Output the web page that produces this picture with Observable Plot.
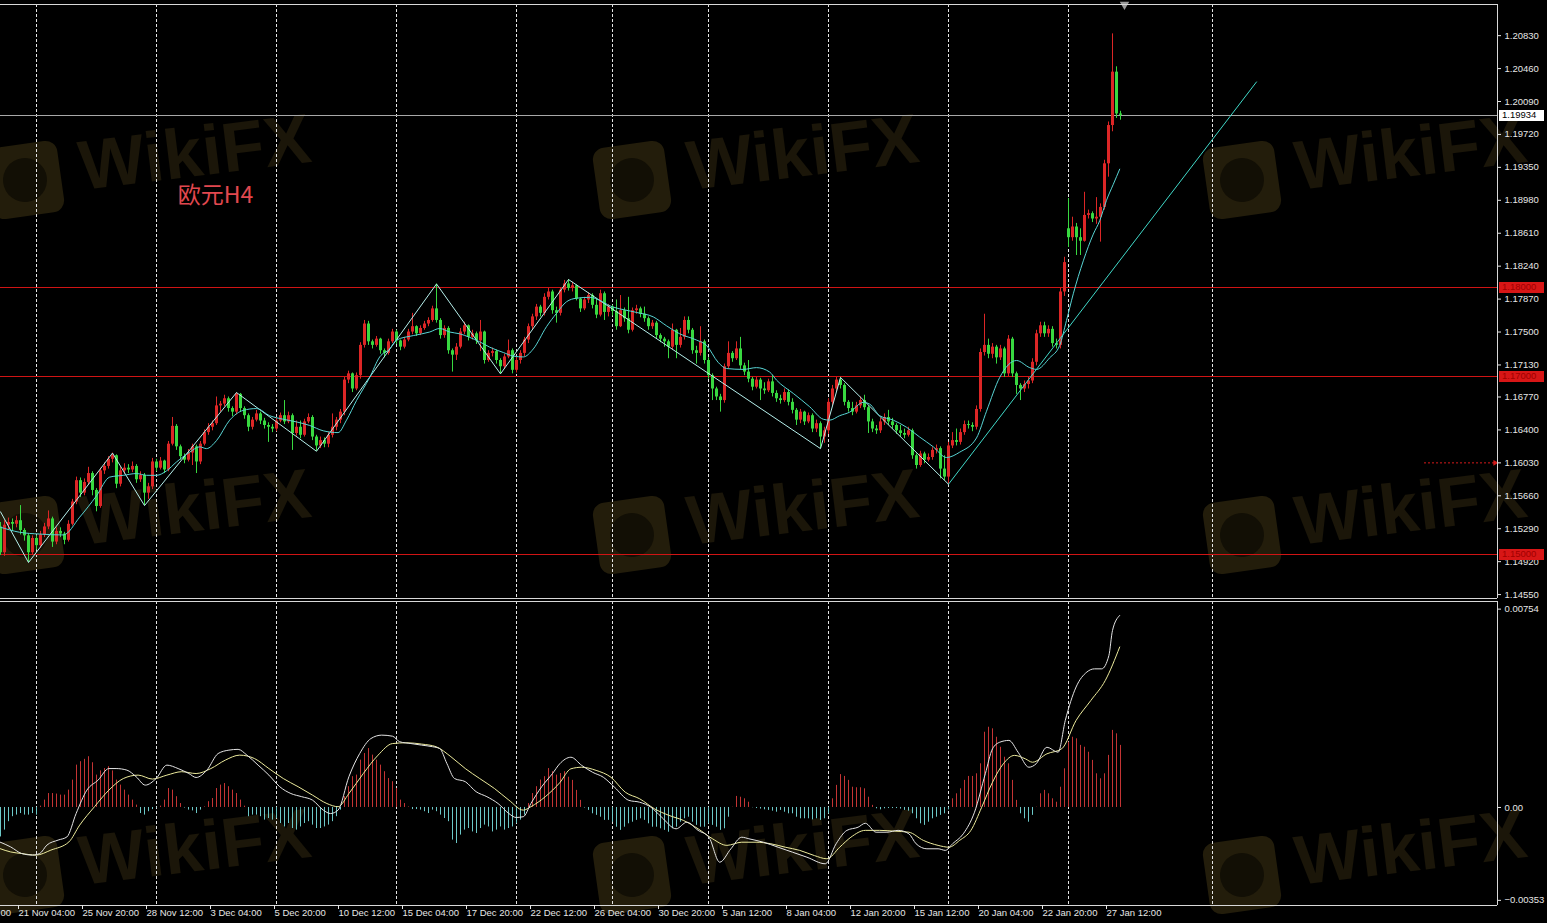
<!DOCTYPE html>
<html><head><meta charset="utf-8">
<script src="https://cdn.jsdelivr.net/npm/d3@7"></script>
<script src="https://cdn.jsdelivr.net/npm/@observablehq/plot@0.6"></script>
<style>
html,body{margin:0;padding:0;background:#000;}
#chart{width:1547px;height:923px;background:#000;overflow:hidden;position:relative;}
#chart svg{display:block;}
</style></head><body><div id="chart"></div>
<script>
// ---------- DATA (EURUSD H4, bar index 0 = 21 Nov 04:00) ----------
const firstBar = -4;
const open = [
1.1531,1.1502,1.1533,1.1536,1.1534,1.1538,1.1527,1.1521,1.1502,1.1518,
1.1510,1.1522,1.1531,1.1540,1.1514,1.1526,1.1523,1.1516,1.1534,1.1559,
1.1583,1.1569,1.1581,1.1591,1.1572,1.1554,1.1594,1.1599,1.1607,1.1611,
1.1579,1.1594,1.1597,1.1595,1.1599,1.1584,1.1589,1.1569,1.1576,1.1604,
1.1597,1.1605,1.1595,1.1624,1.1644,1.1621,1.1610,1.1606,1.1614,1.1621,
1.1604,1.1624,1.1637,1.1643,1.1647,1.1667,1.1669,1.1675,1.1664,1.1660,
1.1680,1.1664,1.1656,1.1643,1.1651,1.1658,1.1650,1.1645,1.1643,1.1641,
1.1650,1.1656,1.1649,1.1656,1.1636,1.1643,1.1634,1.1649,1.1654,1.1632,
1.1622,1.1628,1.1624,1.1634,1.1643,1.1651,1.1660,1.1696,1.1703,1.1686,
1.1701,1.1735,1.1759,1.1739,1.1735,1.1742,1.1729,1.1726,1.1739,1.1750,
1.1740,1.1733,1.1741,1.1750,1.1756,1.1748,1.1754,1.1759,1.1763,1.1776,
1.1763,1.1746,1.1754,1.1729,1.1724,1.1733,1.1750,1.1757,1.1744,1.1748,
1.1740,1.1750,1.1718,1.1726,1.1728,1.1718,1.1711,1.1722,1.1729,1.1707,
1.1718,1.1726,1.1741,1.1756,1.1767,1.1778,1.1771,1.1789,1.1795,1.1774,
1.1771,1.1797,1.1804,1.1799,1.1802,1.1787,1.1776,1.1786,1.1791,1.1780,
1.1769,1.1793,1.1772,1.1778,1.1773,1.1756,1.1774,1.1765,1.1752,1.1774,
1.1776,1.1770,1.1765,1.1756,1.1760,1.1746,1.1742,1.1739,1.1733,1.1752,
1.1735,1.1744,1.1763,1.1752,1.1729,1.1726,1.1739,1.1718,1.1701,1.1686,
1.1677,1.1673,1.1711,1.1726,1.1720,1.1731,1.1712,1.1705,1.1697,1.1688,
1.1696,1.1686,1.1684,1.1694,1.1681,1.1675,1.1673,1.1682,1.1671,1.1662,
1.1651,1.1660,1.1649,1.1656,1.1641,1.1647,1.1632,1.1639,1.1671,1.1686,
1.1696,1.1690,1.1671,1.1664,1.1660,1.1667,1.1673,1.1665,1.1649,1.1641,
1.1639,1.1649,1.1654,1.1649,1.1645,1.1639,1.1636,1.1634,1.1639,1.1611,
1.1600,1.1613,1.1606,1.1609,1.1617,1.1619,1.1596,1.1587,1.1622,1.1628,
1.1626,1.1637,1.1646,1.1645,1.1643,1.1663,1.1727,1.1735,1.1725,1.1733,
1.1721,1.1731,1.1703,1.1742,1.1703,1.1690,1.1686,1.1691,1.1695,1.1716,
1.1748,1.1757,1.1748,1.1753,1.1737,1.1735,1.1795,1.1866,1.1856,1.1868,
1.1856,1.1852,1.1881,1.1883,1.1877,1.1879,1.1890,1.1939,1.1982,1.2042,1.1995];
const close = [
1.1502,1.1533,1.1536,1.1534,1.1538,1.1527,1.1521,1.1502,1.1518,1.1510,
1.1522,1.1531,1.1540,1.1514,1.1526,1.1523,1.1516,1.1534,1.1559,1.1583,
1.1569,1.1581,1.1591,1.1572,1.1554,1.1594,1.1599,1.1607,1.1611,1.1579,
1.1594,1.1597,1.1595,1.1599,1.1584,1.1589,1.1569,1.1576,1.1604,1.1597,
1.1605,1.1595,1.1624,1.1644,1.1621,1.1610,1.1606,1.1614,1.1621,1.1604,
1.1624,1.1637,1.1643,1.1647,1.1667,1.1669,1.1675,1.1664,1.1660,1.1680,
1.1664,1.1656,1.1643,1.1651,1.1658,1.1650,1.1645,1.1643,1.1641,1.1650,
1.1656,1.1649,1.1656,1.1636,1.1643,1.1634,1.1649,1.1654,1.1632,1.1622,
1.1628,1.1624,1.1634,1.1643,1.1651,1.1660,1.1696,1.1703,1.1686,1.1701,
1.1735,1.1759,1.1739,1.1735,1.1742,1.1729,1.1726,1.1739,1.1750,1.1740,
1.1733,1.1741,1.1750,1.1756,1.1748,1.1754,1.1759,1.1763,1.1776,1.1763,
1.1746,1.1754,1.1729,1.1724,1.1733,1.1750,1.1757,1.1744,1.1748,1.1740,
1.1750,1.1718,1.1726,1.1728,1.1718,1.1711,1.1722,1.1729,1.1707,1.1718,
1.1726,1.1741,1.1756,1.1767,1.1778,1.1771,1.1789,1.1795,1.1774,1.1771,
1.1797,1.1804,1.1799,1.1802,1.1787,1.1776,1.1786,1.1791,1.1780,1.1769,
1.1793,1.1772,1.1778,1.1773,1.1756,1.1774,1.1765,1.1752,1.1774,1.1776,
1.1770,1.1765,1.1756,1.1760,1.1746,1.1742,1.1739,1.1733,1.1752,1.1735,
1.1744,1.1763,1.1752,1.1729,1.1726,1.1739,1.1718,1.1701,1.1686,1.1677,
1.1673,1.1711,1.1726,1.1720,1.1731,1.1712,1.1705,1.1697,1.1688,1.1696,
1.1686,1.1684,1.1694,1.1681,1.1675,1.1673,1.1682,1.1671,1.1662,1.1651,
1.1660,1.1649,1.1656,1.1641,1.1647,1.1632,1.1639,1.1671,1.1686,1.1696,
1.1690,1.1671,1.1664,1.1660,1.1667,1.1673,1.1665,1.1649,1.1641,1.1639,
1.1649,1.1654,1.1649,1.1645,1.1639,1.1636,1.1634,1.1639,1.1611,1.1600,
1.1613,1.1606,1.1609,1.1617,1.1619,1.1596,1.1587,1.1622,1.1628,1.1626,
1.1637,1.1646,1.1645,1.1643,1.1663,1.1727,1.1735,1.1725,1.1733,1.1721,
1.1731,1.1703,1.1742,1.1703,1.1690,1.1686,1.1691,1.1695,1.1716,1.1748,
1.1757,1.1748,1.1753,1.1737,1.1735,1.1795,1.1828,1.1856,1.1868,1.1856,
1.1852,1.1881,1.1883,1.1877,1.1879,1.1890,1.1939,1.1982,1.2042,1.1995,1.19934];
const high = [
1.1536,1.1538,1.1541,1.1540,1.1543,1.1555,1.1529,1.1523,1.1521,1.1521,
1.1526,1.1535,1.1549,1.1542,1.1530,1.1530,1.1525,1.1538,1.1562,1.1587,
1.1586,1.1585,1.1598,1.1593,1.1574,1.1597,1.1603,1.1610,1.1614,1.1612,
1.1598,1.1602,1.1601,1.1604,1.1601,1.1593,1.1591,1.1580,1.1608,1.1607,
1.1609,1.1606,1.1627,1.1654,1.1646,1.1623,1.1613,1.1618,1.1624,1.1623,
1.1627,1.1640,1.1647,1.1650,1.1677,1.1672,1.1679,1.1677,1.1666,1.1682,
1.1681,1.1666,1.1658,1.1654,1.1662,1.1660,1.1653,1.1648,1.1646,1.1653,
1.1659,1.1673,1.1660,1.1658,1.1650,1.1650,1.1652,1.1658,1.1656,1.1634,
1.1632,1.1631,1.1637,1.1658,1.1654,1.1663,1.1699,1.1706,1.1704,1.1704,
1.1738,1.1763,1.1762,1.1741,1.1745,1.1743,1.1731,1.1742,1.1753,1.1752,
1.1741,1.1744,1.1753,1.1771,1.1757,1.1757,1.1762,1.1766,1.1779,1.1804,
1.1765,1.1757,1.1756,1.1731,1.1737,1.1754,1.1761,1.1758,1.1752,1.1750,
1.1763,1.1751,1.1729,1.1732,1.1730,1.1720,1.1725,1.1741,1.1731,1.1722,
1.1729,1.1744,1.1759,1.1770,1.1781,1.1780,1.1793,1.1799,1.1797,1.1778,
1.1800,1.1808,1.1809,1.1806,1.1803,1.1788,1.1789,1.1794,1.1793,1.1788,
1.1797,1.1795,1.1781,1.1780,1.1786,1.1791,1.1777,1.1789,1.1777,1.1780,
1.1778,1.1778,1.1767,1.1763,1.1762,1.1748,1.1744,1.1741,1.1759,1.1753,
1.1754,1.1767,1.1767,1.1754,1.1734,1.1756,1.1741,1.1721,1.1703,1.1688,
1.1680,1.1714,1.1739,1.1728,1.1739,1.1744,1.1715,1.1718,1.1699,1.1699,
1.1698,1.1693,1.1697,1.1701,1.1684,1.1679,1.1686,1.1685,1.1675,1.1664,
1.1663,1.1661,1.1659,1.1658,1.1651,1.1649,1.1643,1.1675,1.1690,1.1699,
1.1699,1.1692,1.1673,1.1671,1.1671,1.1677,1.1679,1.1667,1.1652,1.1645,
1.1653,1.1658,1.1662,1.1653,1.1647,1.1645,1.1641,1.1643,1.1641,1.1613,
1.1616,1.1615,1.1613,1.1620,1.1623,1.1621,1.1611,1.1626,1.1637,1.1641,
1.1641,1.1650,1.1650,1.1648,1.1667,1.1731,1.1770,1.1742,1.1737,1.1735,
1.1735,1.1733,1.1746,1.1744,1.1705,1.1692,1.1695,1.1699,1.1720,1.1752,
1.1761,1.1761,1.1757,1.1756,1.1742,1.1799,1.1834,1.1900,1.1879,1.1872,
1.1866,1.1907,1.1887,1.1885,1.1901,1.1894,1.1943,1.1986,1.2085,1.2048,1.1998];
const low = [
1.1499,1.1498,1.1528,1.1526,1.1530,1.1522,1.1515,1.1491,1.1499,1.1505,
1.1507,1.1519,1.1528,1.1508,1.1511,1.1519,1.1511,1.1514,1.1532,1.1556,
1.1564,1.1566,1.1578,1.1566,1.1548,1.1552,1.1590,1.1596,1.1603,1.1574,
1.1576,1.1590,1.1591,1.1592,1.1580,1.1581,1.1555,1.1562,1.1573,1.1593,
1.1595,1.1591,1.1593,1.1622,1.1617,1.1606,1.1602,1.1604,1.1600,1.1591,
1.1601,1.1622,1.1634,1.1639,1.1645,1.1660,1.1666,1.1660,1.1655,1.1657,
1.1660,1.1652,1.1638,1.1640,1.1649,1.1646,1.1641,1.1626,1.1637,1.1638,
1.1648,1.1646,1.1647,1.1617,1.1633,1.1630,1.1632,1.1647,1.1628,1.1616,
1.1619,1.1620,1.1620,1.1631,1.1639,1.1647,1.1656,1.1692,1.1682,1.1684,
1.1697,1.1732,1.1735,1.1731,1.1733,1.1725,1.1721,1.1724,1.1737,1.1736,
1.1729,1.1731,1.1739,1.1747,1.1745,1.1746,1.1752,1.1756,1.1761,1.1760,
1.1742,1.1743,1.1725,1.1705,1.1718,1.1731,1.1747,1.1740,1.1741,1.1736,
1.1728,1.1714,1.1716,1.1722,1.1714,1.1703,1.1708,1.1720,1.1703,1.1704,
1.1714,1.1722,1.1737,1.1752,1.1763,1.1767,1.1768,1.1786,1.1770,1.1760,
1.1768,1.1794,1.1796,1.1795,1.1785,1.1772,1.1774,1.1782,1.1776,1.1765,
1.1767,1.1763,1.1767,1.1768,1.1752,1.1755,1.1761,1.1748,1.1750,1.1770,
1.1766,1.1761,1.1752,1.1753,1.1742,1.1738,1.1733,1.1720,1.1730,1.1720,
1.1732,1.1741,1.1748,1.1725,1.1714,1.1723,1.1714,1.1697,1.1673,1.1673,
1.1660,1.1670,1.1709,1.1716,1.1718,1.1708,1.1701,1.1693,1.1684,1.1686,
1.1673,1.1680,1.1682,1.1677,1.1671,1.1669,1.1671,1.1667,1.1658,1.1645,
1.1647,1.1645,1.1647,1.1637,1.1637,1.1619,1.1625,1.1635,1.1667,1.1683,
1.1686,1.1667,1.1660,1.1656,1.1658,1.1664,1.1662,1.1636,1.1637,1.1635,
1.1636,1.1645,1.1645,1.1641,1.1635,1.1632,1.1630,1.1632,1.1607,1.1596,
1.1598,1.1602,1.1604,1.1606,1.1613,1.1585,1.1583,1.1579,1.1619,1.1622,
1.1623,1.1634,1.1641,1.1638,1.1640,1.1660,1.1723,1.1720,1.1720,1.1714,
1.1718,1.1699,1.1700,1.1699,1.1680,1.1673,1.1682,1.1686,1.1692,1.1712,
1.1744,1.1744,1.1744,1.1733,1.1731,1.1731,1.1790,1.1845,1.1852,1.1836,
1.1836,1.1851,1.1877,1.1873,1.1871,1.1851,1.1887,1.1924,1.1975,1.1990,1.1988];

// ZigZag vertices [bar, price]
const zigzag = [[-4,1.1548],[3,1.1491],[24,1.1614],[32,1.1555],[55,1.1682],[75,1.1616],[105,1.1804],[121,1.1703],[138,1.1809],[201,1.1619],[206,1.1699],[233,1.1579]];
// Moving average [bar, price]
const movingAvg = [[-4.2,1.1531],[0.8,1.1525],[5.8,1.1523],[11.7,1.1522],[15.8,1.1542],[20,1.1566],[23.3,1.1587],[26.7,1.1589],[30,1.1591],[32.5,1.1589],[35,1.1589],[37.5,1.1594],[40,1.1604],[43.3,1.1615],[45.8,1.1621],[47.5,1.1619],[50,1.1628],[53.3,1.1651],[56.7,1.1662],[60,1.1664],[63.3,1.1656],[66.7,1.1652],[70,1.1649],[73.3,1.1645],[76.7,1.1639],[80.4,1.1637],[82.5,1.1651],[85,1.1673],[88.3,1.1699],[90.8,1.1722],[93.3,1.1731],[95,1.1741],[99.2,1.1746],[103.3,1.1750],[105.8,1.1754],[108.3,1.1750],[110.8,1.1748],[113.3,1.1744],[115.8,1.1739],[118.3,1.1733],[121.7,1.1727],[124.2,1.1723],[126.7,1.1722],[129.2,1.1731],[132.5,1.1756],[135,1.1771],[137.5,1.1784],[140,1.1788],[143.3,1.1789],[149.2,1.1778],[155,1.1772],[159.2,1.1767],[162.5,1.1757],[165.8,1.1748],[170,1.1741],[172.5,1.1735],[175.4,1.1716],[177.5,1.1709],[181.7,1.1708],[185,1.1710],[188.3,1.1705],[190,1.1696],[194.2,1.1681],[198.3,1.1666],[201.7,1.1652],[203.3,1.1651],[205.8,1.1656],[208.3,1.1660],[211.7,1.1671],[213.3,1.1669],[215.8,1.1656],[219.2,1.1651],[222.5,1.1643],[225.8,1.1632],[229.2,1.1621],[232.5,1.1609],[235.8,1.1615],[240,1.1631],[242.5,1.1661],[245.8,1.1699],[250,1.1718],[253.3,1.1710],[255,1.1708],[258.3,1.1721],[260.8,1.1735],[262.5,1.1763],[264.2,1.1793],[266.7,1.1830],[269.2,1.1860],[270.8,1.1875],[272.5,1.1898],[274.2,1.1916],[275.8,1.1933]];
// Trend line anchors [bar, price]
const trendLine = [[233,1.1579],[310,1.2031]];
const levelLines = [1.18000, 1.17000, 1.15000];
const bidPrice = 1.19934;
const alertLine = {price: 1.16030, fromBar: 352};
const chartLabel = [{bar: 40.3, price: 1.19034, text: "欧元H4"}];
const priceTicks = [1.20830,1.20460,1.20090,1.19720,1.19350,1.18980,1.18610,1.18240,1.17870,1.17500,1.17130,1.16770,1.16400,1.16030,1.15660,1.15290,1.14920,1.14550];

// MACD histogram, one value per bar from firstBar
const macdHist = [
-0.00112,-0.00086,-0.00054,-0.00035,-0.00029,-0.00023,-0.00029,-0.00029,-0.00023,-0.00029,
0.00005,0.00028,0.00053,0.00053,0.00051,0.00047,0.00047,0.00066,0.00104,0.00161,
0.00174,0.00183,0.00193,0.00170,0.00123,0.00139,0.00148,0.00155,0.00139,0.00104,
0.00085,0.00066,0.00047,0.00028,0.00009,-0.00023,-0.00029,-0.00016,-0.00008,-0.00002,
0.00005,0.00028,0.00072,0.00066,0.00041,0.00015,-0.00002,-0.00010,-0.00013,-0.00023,
-0.00010,0.00002,0.00022,0.00034,0.00072,0.00085,0.00091,0.00079,0.00066,0.00053,
0.00028,0.00005,-0.00035,-0.00029,-0.00029,-0.00035,-0.00048,-0.00042,-0.00048,-0.00042,
-0.00061,-0.00074,-0.00061,-0.00080,-0.00086,-0.00074,-0.00061,-0.00054,-0.00067,-0.00080,
-0.00080,-0.00074,-0.00067,-0.00054,-0.00035,-0.00010,0.00041,0.00079,0.00117,0.00123,
0.00180,0.00205,0.00224,0.00199,0.00180,0.00161,0.00136,0.00110,0.00098,0.00072,
0.00028,0.00015,0.00002,-0.00008,-0.00008,-0.00010,-0.00016,-0.00023,-0.00010,-0.00016,
-0.00029,-0.00042,-0.00054,-0.00124,-0.00137,-0.00105,-0.00086,-0.00080,-0.00093,-0.00099,
-0.00080,-0.00067,-0.00074,-0.00093,-0.00086,-0.00074,-0.00086,-0.00080,-0.00074,-0.00061,
-0.00048,-0.00029,0.00015,0.00053,0.00079,0.00104,0.00117,0.00148,0.00136,0.00123,
0.00129,0.00136,0.00115,0.00103,0.00065,0.00027,-0.00002,-0.00011,-0.00024,-0.00030,
-0.00037,-0.00049,-0.00049,-0.00056,-0.00075,-0.00087,-0.00075,-0.00062,-0.00056,-0.00049,
-0.00043,-0.00049,-0.00062,-0.00075,-0.00075,-0.00081,-0.00087,-0.00094,-0.00081,-0.00075,
-0.00056,-0.00043,-0.00037,-0.00056,-0.00068,-0.00075,-0.00075,-0.00062,-0.00068,-0.00075,
-0.00087,-0.00081,-0.00037,0.00001,0.00042,0.00039,0.00033,0.00020,-0.00001,-0.00004,
-0.00006,-0.00009,-0.00011,-0.00014,-0.00018,-0.00011,-0.00018,-0.00024,-0.00024,-0.00037,
-0.00043,-0.00043,-0.00043,-0.00047,-0.00043,-0.00049,-0.00043,-0.00024,0.00033,0.00084,
0.00125,0.00118,0.00103,0.00077,0.00075,0.00075,0.00071,0.00039,0.00008,-0.00005,
-0.00009,-0.00005,-0.00004,-0.00004,-0.00004,-0.00006,-0.00011,-0.00014,-0.00024,-0.00043,
-0.00062,-0.00068,-0.00056,-0.00043,-0.00037,-0.00030,-0.00024,-0.00009,0.00033,0.00052,
0.00071,0.00103,0.00118,0.00118,0.00128,0.00166,0.00286,0.00305,0.00299,0.00267,
0.00229,0.00191,0.00166,0.00103,0.00027,-0.00024,-0.00043,-0.00056,-0.00030,0.00001,
0.00052,0.00065,0.00052,0.00033,0.00020,0.00077,0.00147,0.00248,0.00267,0.00261,
0.00236,0.00229,0.00210,0.00179,0.00128,0.00109,0.00128,0.00198,0.00293,0.00280,0.00236];
// MACD lines [bar, value]
const macdMain = [[-4.2,-0.00131],[-1.45,-0.00150],[1.3,-0.00175],[4.0,-0.00181],[5.8,-0.00175],[7.6,-0.00143],[10.4,-0.00124],[12.6,-0.00112],[14.9,-0.00023],[17.6,0.00066],[20.4,0.00104],[23.1,0.00148],[24.9,0.00148],[27.6,0.00142],[29.9,0.00117],[32.2,0.00085],[34.9,0.00110],[37.6,0.00161],[40.4,0.00148],[43.1,0.00129],[44.9,0.00114],[47.6,0.00142],[50.4,0.00205],[53.1,0.00218],[55.4,0.00221],[57.6,0.00199],[60.4,0.00161],[63.1,0.00123],[65.8,0.00079],[68.6,0.00053],[71.3,0.00041],[74.0,0.00028],[76.7,-0.00010],[78.5,-0.00023],[80.4,-0.00010],[83.1,0.00117],[85.8,0.00205],[88.6,0.00262],[91.3,0.00275],[94.0,0.00271],[95.8,0.00250],[98.6,0.00243],[101.3,0.00237],[104.0,0.00231],[105.8,0.00224],[107.6,0.00167],[109.5,0.00110],[112.2,0.00098],[114.9,0.00060],[117.6,0.00041],[120.4,0.00015],[123.1,-0.00023],[124.9,-0.00038],[126.7,-0.00035],[128.6,0.00015],[131.3,0.00079],[134.0,0.00129],[135.8,0.00166],[138.6,0.00191],[141.3,0.00160],[144.0,0.00134],[146.7,0.00115],[149.5,0.00077],[153.1,0.00027],[155.8,0.00020],[158.6,0.00001],[161.3,-0.00037],[164.9,-0.00081],[167.6,-0.00056],[170.4,-0.00087],[173.1,-0.00113],[175.8,-0.00208],[178.6,-0.00157],[181.3,-0.00113],[183.1,-0.00119],[186.7,-0.00132],[190.4,-0.00151],[194.0,-0.00170],[197.6,-0.00189],[202.2,-0.00214],[204.9,-0.00138],[207.6,-0.00087],[210.4,-0.00075],[212.2,-0.00060],[214.9,-0.00094],[217.6,-0.00094],[220.4,-0.00087],[223.1,-0.00100],[224.9,-0.00138],[227.6,-0.00157],[230.4,-0.00157],[232.2,-0.00163],[234.0,-0.00138],[236.7,-0.00100],[239.5,-0.00018],[242.2,0.00128],[244.0,0.00223],[245.8,0.00248],[248.1,0.00255],[250.4,0.00210],[253.1,0.00153],[254.9,0.00166],[257.6,0.00229],[260.4,0.00210],[262.2,0.00331],[264.9,0.00458],[267.6,0.00515],[269.5,0.00527],[271.3,0.00527],[273.1,0.00578],[274.0,0.00673],[275.8,0.00730]];
const macdSignal = [[-4.2,-0.00156],[-1.45,-0.00169],[1.3,-0.00175],[4.9,-0.00181],[8.6,-0.00162],[13.1,-0.00131],[15.8,-0.00067],[19.5,0.00003],[23.1,0.00066],[26.7,0.00110],[30.4,0.00123],[34.0,0.00108],[37.6,0.00123],[41.3,0.00136],[44.9,0.00129],[48.6,0.00148],[52.2,0.00180],[55.8,0.00199],[59.5,0.00186],[63.1,0.00148],[66.7,0.00110],[70.4,0.00079],[74.0,0.00047],[77.6,0.00015],[80.4,0.00003],[83.1,0.00053],[86.7,0.00129],[90.4,0.00199],[94.0,0.00243],[97.6,0.00246],[101.3,0.00241],[104.9,0.00231],[108.6,0.00193],[112.2,0.00148],[115.8,0.00110],[119.5,0.00072],[123.1,0.00028],[126.7,-0.00010],[128.6,0.00003],[132.2,0.00041],[135.8,0.00094],[138.6,0.00147],[141.3,0.00153],[144.9,0.00141],[148.6,0.00115],[152.2,0.00058],[155.8,0.00033],[159.5,-0.00005],[163.1,-0.00030],[166.7,-0.00049],[170.4,-0.00081],[174.0,-0.00119],[177.6,-0.00144],[181.3,-0.00132],[184.9,-0.00132],[188.6,-0.00138],[192.2,-0.00151],[195.8,-0.00163],[199.5,-0.00183],[202.6,-0.00195],[205.8,-0.00151],[208.6,-0.00113],[212.2,-0.00087],[215.8,-0.00087],[219.5,-0.00090],[223.1,-0.00094],[226.7,-0.00125],[230.4,-0.00144],[233.1,-0.00151],[235.8,-0.00125],[238.6,-0.00087],[241.3,0.00001],[244.0,0.00096],[246.7,0.00166],[249.5,0.00198],[252.2,0.00185],[254.0,0.00172],[257.6,0.00204],[261.3,0.00223],[264.9,0.00331],[268.6,0.00407],[272.2,0.00483],[275.8,0.00610]];
const macdTicks = [0.00754, 0, -0.00353];

// Time axis: label every 16 bars, grid at week starts
const timeTickBars = [-16,0,16,32,48,64,80,96,112,128,144,160,176,192,208,224,240,256,272];
const timeLabels = ["18 Nov 12:00","21 Nov 04:00","25 Nov 20:00","28 Nov 12:00","3 Dec 04:00","5 Dec 20:00","10 Dec 12:00","15 Dec 04:00","17 Dec 20:00","22 Dec 12:00","26 Dec 04:00","30 Dec 20:00","5 Jan 12:00","8 Jan 04:00","12 Jan 20:00","15 Jan 12:00","20 Jan 04:00","22 Jan 20:00","27 Jan 12:00"];
const weekStartBars = [5,35,65,95,125,149,173,203,233,263,299];

// ---------- RENDER ----------
const UP = "#dc2626", DOWN = "#38d840";
const X_DOMAIN = [-4, 370.25];
const PRICE_DOMAIN = [1.14506, 1.21180];
const MACD_DOMAIN = [-0.003726, 0.00783];
const FONT = "'Liberation Sans', Arial, sans-serif";
const baseStyle = {background: "#000", color: "#e6e6e6", fontFamily: FONT, fontSize: "9.5px"};

const candles = close.map((c, i) => ({bar: firstBar + i, open: open[i], high: high[i], low: low[i], close: c}));
const candleColor = d => d.close >= d.open ? UP : DOWN;
const gridRule = Plot.ruleX(weekStartBars, {stroke: "#e4e4e4", strokeDasharray: "3,2"});

const plot1 = Plot.plot({
  width: 1547, height: 600, marginLeft: 0, marginRight: 50, marginTop: 4, marginBottom: 2,
  x: {domain: X_DOMAIN, axis: null},
  y: {domain: PRICE_DOMAIN, axis: null},
  style: baseStyle,
  marks: [
    gridRule,
    Plot.ruleY(levelLines, {stroke: "#d01414", shapeRendering: "crispEdges"}),
    Plot.ruleY([bidPrice], {stroke: "#a8a8a8", shapeRendering: "crispEdges"}),
    Plot.ruleY([alertLine], {y: "price", x1: "fromBar", x2: X_DOMAIN[1] - 0.6, stroke: "#d41a1a", strokeDasharray: "2,2"}),
    Plot.dot([alertLine], {x: X_DOMAIN[1] - 0.6, y: "price", symbol: "triangle", rotate: 90, r: 2.2, fill: "#d41a1a"}),
    Plot.ruleX(candles, {x: "bar", y1: "low", y2: "high", stroke: candleColor, strokeWidth: 1}),
    Plot.ruleX(candles, {x: "bar", y1: "open", y2: "close", stroke: candleColor, strokeWidth: 3}),
    Plot.line(zigzag, {stroke: "#b6f0ec", strokeWidth: 1}),
    Plot.line(movingAvg, {stroke: "#58d4d4", strokeWidth: 1, curve: "monotone-x"}),
    Plot.line(trendLine, {stroke: "#40d8c8", strokeWidth: 1}),
    Plot.text(chartLabel, {x: "bar", y: "price", text: "text", textAnchor: "start", fill: "#e2484f", fontSize: 23, fontFamily: "'Noto Sans CJK SC', sans-serif"}),
    Plot.dot([candles[candles.length - 1]], {x: d => d.bar + 1, y: PRICE_DOMAIN[1], symbol: "triangle", rotate: 180, r: 3.5, fill: "#9a9a9a"}),
    Plot.ruleY([PRICE_DOMAIN[1]], {stroke: "#d8d8d8"}),
    Plot.ruleY([PRICE_DOMAIN[0]], {stroke: "#d8d8d8"}),
    Plot.ruleX([X_DOMAIN[1]], {stroke: "#d8d8d8"}),
    Plot.axisY({anchor: "right", label: null, ticks: priceTicks, tickFormat: d3.format(".5f"), tickSize: 3, tickPadding: 4, fontSize: 9.5, color: "#e6e6e6"})
  ]
});

const histData = macdHist.map((v, i) => ({bar: firstBar + i, v}));
const labelByBar = new Map(timeTickBars.map((b, i) => [b, timeLabels[i]]));
const plot2 = Plot.plot({
  width: 1547, height: 323, marginLeft: 0, marginRight: 50, marginTop: 1, marginBottom: 18,
  x: {domain: X_DOMAIN, label: null},
  y: {domain: MACD_DOMAIN, axis: null, label: null},
  style: baseStyle,
  marks: [
    gridRule,
    Plot.ruleX(histData, {x: "bar", y1: 0, y2: "v", stroke: d => d.v >= 0 ? "#c43434" : "#6cc8c8", strokeWidth: 1}),
    Plot.line(macdSignal, {stroke: "#ecea9c", strokeWidth: 1, curve: "monotone-x"}),
    Plot.line(macdMain, {stroke: "#e4e4e4", strokeWidth: 1, curve: "monotone-x"}),
    Plot.ruleY([MACD_DOMAIN[1]], {stroke: "#d8d8d8"}),
    Plot.ruleY([MACD_DOMAIN[0]], {stroke: "#d8d8d8"}),
    Plot.ruleX([X_DOMAIN[1]], {stroke: "#d8d8d8"}),
    Plot.axisY({anchor: "right", label: null, ticks: macdTicks, tickFormat: v => v === 0 ? "0.00" : d3.format(".5f")(v), tickSize: 3, tickPadding: 4, fontSize: 9.5, color: "#e6e6e6"}),
    Plot.axisX({anchor: "bottom", label: null, ticks: timeTickBars, tickFormat: b => labelByBar.get(b), tickSize: 4, tickPadding: 0, textAnchor: "start", dx: 2, fontSize: 9.5, color: "#e6e6e6"})
  ]
});

// price boxes on the right axis, placed with the plot's own scales
(function addBoxes() {
  const ys = plot1.scale("y"), xs = plot1.scale("x");
  const x0 = xs.apply(X_DOMAIN[1]) + 2;
  const svg = d3.select(plot1);
  const boxes = levelLines.map(p => ({p, fill: "#d81616", text: "#a00000"})).concat([{p: bidPrice, fill: "#ffffff", text: "#000"}]);
  for (const b of boxes) {
    const y = Math.round(ys.apply(b.p));
    svg.append("rect").attr("x", x0).attr("y", y - 5).attr("width", 45).attr("height", 11).attr("fill", b.fill);
    svg.append("text").attr("x", x0 + 3).attr("y", y + 0.5).attr("dominant-baseline", "middle").attr("text-anchor", "start")
      .attr("font-family", FONT).attr("font-size", 9.5).attr("fill", b.text).text(b.p.toFixed(5));
  }
})();

// faint WikiFX watermarks
function watermark(svgEl, spots) {
  const g = d3.select(svgEl).insert("g", ":first-child").attr("pointer-events", "none");
  for (const [lx, ly, tx, ty] of spots) {
    const lg = g.append("g").attr("transform", `translate(${lx},${ly}) rotate(-8)`);
    lg.append("rect").attr("x", -36).attr("y", -36).attr("width", 72).attr("height", 72).attr("rx", 12).attr("fill", "#231d0b");
    lg.append("circle").attr("r", 22).attr("fill", "#120f05");
    g.append("text").attr("transform", `translate(${tx},${ty}) rotate(-7)`).attr("text-anchor", "start")
      .attr("font-family", FONT).attr("font-weight", "bold").attr("font-size", 70).attr("fill", "#1b1609").text("WikiFX");
  }
}
watermark(plot1, [[25,180,82,190],[632,180,690,190],[1242,180,1298,190],[25,535,82,545],[632,535,690,545],[1242,535,1298,545]]);
watermark(plot2, [[25,275,82,285],[632,275,690,285],[1242,275,1298,285]]);

const chart = document.getElementById("chart");
chart.appendChild(plot1);
chart.appendChild(plot2);
</script>
</body></html>
